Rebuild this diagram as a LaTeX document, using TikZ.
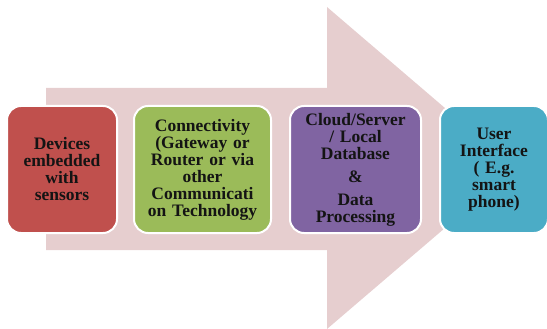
\documentclass[tikz,border=0pt]{standalone}
\usepackage{fontspec}
\setmainfont{Liberation Serif}
\definecolor{arrowpink}{RGB}{230,206,207}
\definecolor{boxred}{RGB}{192,80,77}
\definecolor{boxgreen}{RGB}{155,187,89}
\definecolor{boxpurple}{RGB}{128,100,162}
\definecolor{boxteal}{RGB}{75,172,198}
\definecolor{txt}{RGB}{20,20,20}
\tikzset{
  stagebox/.style={draw=white, line width=2pt, rounded corners=14pt,
    minimum height=127pt, inner sep=2pt, align=center, text=txt,
    font=\bfseries\fontsize{17.5}{17}\selectfont},
}
\begin{document}
\begin{tikzpicture}[x=1pt,y=-1pt]
\useasboundingbox (0,0) rectangle (547,329);
\fill[arrowpink] (46,88) -- (327,88) -- (327,7) -- (515,168) -- (327,329) -- (327,250) -- (46,250) -- cycle;
\node[stagebox, fill=boxred, minimum width=110pt, text width=104pt] (dev) at (62,169.5)
  {Devices\\embedded\\with\\sensors};
\node[stagebox, fill=boxgreen, minimum width=137pt, text width=133pt] (con) at (202.5,169.5)
  {Connectivity\\(Gateway or\\Router or via\\other\\Communicati\\on Technology};
\node[stagebox, fill=boxpurple, minimum width=131pt, text width=125pt] (cld) at (355.5,169.5)
  {Cloud/Server\\/ Local\\Database\\[6pt]\&\\[6pt]Data\\Processing};
\node[stagebox, fill=boxteal, minimum width=108pt, text width=102pt] (ui) at (494,169.5)
  {User\\Interface\\( E.g.\\smart\\phone)};
\end{tikzpicture}
\end{document}
